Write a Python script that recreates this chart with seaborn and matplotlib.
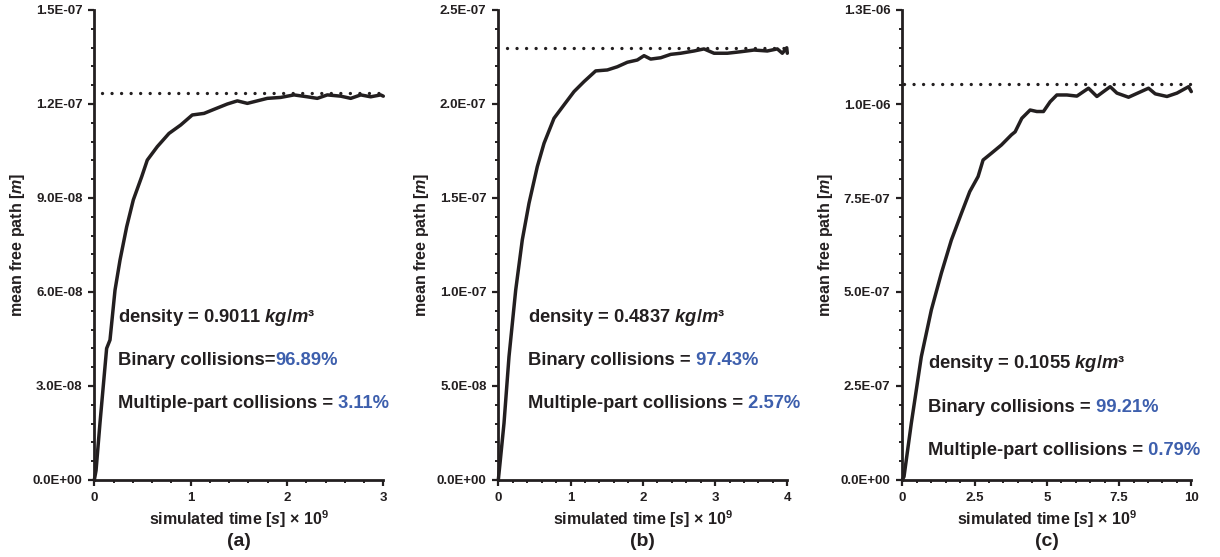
import numpy as np
import pandas as pd
import matplotlib
matplotlib.use("Agg")
import matplotlib.pyplot as plt
import seaborn as sns
from matplotlib.ticker import MultipleLocator, FixedLocator, FixedFormatter

# ---------------- data ----------------
time_a = [0, 0.018, 0.059, 0.128, 0.163, 0.215, 0.267, 0.336, 0.405, 0.492, 0.55, 0.654,
          0.775, 0.897, 1.017, 1.139, 1.243, 1.381, 1.485, 1.589, 1.692, 1.796, 1.935,
          2.073, 2.211, 2.315, 2.419, 2.558, 2.662, 2.766, 2.869, 2.973, 3.0]
mfp_a = [0, 0.3, 1.82, 4.20, 4.47, 6.06, 7.02, 8.08, 8.94, 9.68, 10.21, 10.64, 11.06,
         11.33, 11.65, 11.70, 11.83, 12.00, 12.10, 12.02, 12.10, 12.18, 12.21, 12.29,
         12.23, 12.18, 12.29, 12.25, 12.18, 12.29, 12.23, 12.29, 12.25]  # x 1e-8 m

time_b = [0, 0.024, 0.079, 0.148, 0.241, 0.332, 0.425, 0.54, 0.633, 0.771, 0.909, 1.048,
          1.186, 1.348, 1.509, 1.647, 1.786, 1.924, 2.017, 2.109, 2.248, 2.386, 2.525,
          2.709, 2.847, 2.986, 3.170, 3.355, 3.539, 3.723, 3.862, 3.931, 3.992, 4.0]
mfp_b = [0, 0.9, 3.02, 6.56, 10.11, 12.77, 14.72, 16.67, 17.91, 19.24, 19.95, 20.66,
         21.19, 21.76, 21.81, 21.98, 22.22, 22.34, 22.57, 22.39, 22.46, 22.64, 22.70,
         22.82, 22.93, 22.70, 22.70, 22.78, 22.87, 22.82, 22.93, 22.70, 22.99, 22.70]  # x 1e-8 m

time_c = [0, 0.059, 0.312, 0.658, 1.004, 1.351, 1.697, 2.044, 2.334, 2.622, 2.795, 3.083,
          3.429, 3.776, 3.904, 4.136, 4.423, 4.655, 4.884, 5.116, 5.348, 5.695, 6.041,
          6.27, 6.443, 6.733, 6.962, 7.194, 7.426, 7.828, 8.174, 8.52, 8.753, 9.158,
          9.504, 9.906, 10.0]
mfp_c = [0, 0.09, 1.51, 3.28, 4.52, 5.50, 6.38, 7.09, 7.67, 8.07, 8.51, 8.69, 8.91, 9.18,
         9.26, 9.62, 9.84, 9.80, 9.80, 10.06, 10.24, 10.24, 10.21, 10.33, 10.42, 10.20,
         10.33, 10.46, 10.29, 10.18, 10.30, 10.42, 10.27, 10.20, 10.29, 10.46, 10.33]  # x 1e-7 m

scales = [1e-8, 1e-8, 1e-7]
theory_level = [1.234e-7, 2.30e-7, 1.053e-6]
theory_start = [0.08, 0.12, 0.06]

densities = ["0.9011", "0.4837", "0.1055"]
binary_prefix = ["Binary collisions=", "Binary collisions =", "Binary collisions ="]
binary_pct = ["96.89%", " 97.43%", " 99.21%"]
multi_pct = [" 3.11%", " 2.57%", " 0.79%"]
panel_labels = ["(a)", "(b)", "(c)"]

x_max = [3, 4, 10]
x_major = [[0, 1, 2, 3], [0, 1, 2, 3, 4], [0, 2.5, 5, 7.5, 10]]
x_ticklabels = [["0", "1", "2", "3"], ["0", "1", "2", "3", "4"],
                ["0", "2.5", "5", "7.5", "10"]]
x_minor = [0.2, 0.2, 0.5]
y_max = [1.5e-7, 2.5e-7, 1.25e-6]
y_major = [[0, 3e-8, 6e-8, 9e-8, 1.2e-7, 1.5e-7],
           [0, 5e-8, 1e-7, 1.5e-7, 2e-7, 2.5e-7],
           [0, 2.5e-7, 5e-7, 7.5e-7, 1e-6, 1.25e-6]]
y_ticklabels = [["0.0E+00", "3.0E-08", "6.0E-08", "9.0E-08", "1.2E-07", "1.5E-07"],
                ["0.0E+00", "5.0E-08", "1.0E-07", "1.5E-07", "2.0E-07", "2.5E-07"],
                ["0.0E+00", "2.5E-07", "5.0E-07", "7.5E-07", "1.0E-06", "1.3E-06"]]
y_minor = [6e-9, 1e-8, 5e-8]

times = [time_a, time_b, time_c]
mfps = [mfp_a, mfp_b, mfp_c]

# ---------------- style ----------------
sns.set_style("ticks")
plt.rcParams['font.family'] = ['Liberation Sans', 'DejaVu Sans']
plt.rcParams['font.weight'] = 'bold'
plt.rcParams['mathtext.fontset'] = 'custom'
plt.rcParams['mathtext.rm'] = 'Liberation Sans:bold'
plt.rcParams['mathtext.bf'] = 'Liberation Sans:bold'
plt.rcParams['mathtext.it'] = 'Liberation Sans:italic:bold'

INK = '#231f20'
BLUE = '#3d5fad'

fig = plt.figure(figsize=(12.2, 5.57), dpi=100)
fig.patch.set_facecolor('white')

W, H = 1220, 557
left_px = [94.3, 498.3, 902.3]
ax_w_px = 289
ax_top_px, ax_bot_px = 10, 480

text_x = [0.082, 0.103, 0.090]
text_y = [[0.3368, 0.2447, 0.1526], [0.3368, 0.2447, 0.1526], [0.2377, 0.1453, 0.0532]]

for i in range(3):
    ax = fig.add_axes([left_px[i] / W, (H - ax_bot_px) / H, ax_w_px / W,
                       (ax_bot_px - ax_top_px) / H])
    ax.set_facecolor('white')
    df = pd.DataFrame({"t": times[i], "mfp": np.array(mfps[i]) * scales[i]})
    sns.lineplot(data=df, x="t", y="mfp", ax=ax, color=INK, lw=2.5,
                 sort=False, estimator=None, clip_on=False, zorder=3)
    dots = pd.DataFrame({"t": [theory_start[i], x_max[i]],
                         "mfp": [theory_level[i], theory_level[i]]})
    sns.lineplot(data=dots, x="t", y="mfp", ax=ax, color=INK, lw=2.4,
                 linestyle=(0, (0.01, 2.85)), dash_capstyle='round',
                 estimator=None, clip_on=False, zorder=2)

    ax.set_xlim(0, x_max[i])
    ax.set_ylim(0, y_max[i])
    sns.despine(ax=ax)
    for s in ['left', 'bottom']:
        ax.spines[s].set_linewidth(2.0)
        ax.spines[s].set_color(INK)

    ax.xaxis.set_major_locator(FixedLocator(x_major[i]))
    ax.xaxis.set_major_formatter(FixedFormatter(x_ticklabels[i]))
    ax.xaxis.set_minor_locator(MultipleLocator(x_minor[i]))
    ax.yaxis.set_major_locator(FixedLocator(y_major[i]))
    ax.yaxis.set_major_formatter(FixedFormatter(y_ticklabels[i]))
    ax.yaxis.set_minor_locator(MultipleLocator(y_minor[i]))
    ax.tick_params(which='major', direction='out', length=4.5, width=1.6,
                   color=INK, labelsize=9.5, labelcolor=INK, pad=4)
    ax.tick_params(which='minor', direction='out', length=2.5, width=1.4, color=INK)
    for lab in ax.get_xticklabels() + ax.get_yticklabels():
        lab.set_fontweight('bold')

    ax.set_xlabel(r"simulated time [$\mathit{s}$] × 10$^{9}$", fontsize=11.5,
                  fontweight='bold', color=INK)
    ax.xaxis.set_label_coords(0.5, -0.060)
    ax.set_ylabel(r"mean free path [$\mathit{m}$]", fontsize=11.5,
                  fontweight='bold', color=INK)
    ax.yaxis.set_label_coords(-0.233, 0.5)

    ax.text(0.5, -0.131, panel_labels[i], transform=ax.transAxes, ha='center',
            va='center', fontsize=14, fontweight='bold', color=INK)

    fs = 13.2
    ax.text(text_x[i], text_y[i][0], r"density = %s $\mathit{kg/m}$³" % densities[i],
            transform=ax.transAxes, fontsize=fs, fontweight='bold', color=INK,
            va='baseline', ha='left')
    t1 = ax.text(text_x[i], text_y[i][1], binary_prefix[i], transform=ax.transAxes,
                 fontsize=fs, fontweight='bold', color=INK, va='baseline', ha='left')
    ax.annotate(binary_pct[i], xycoords=t1, xy=(1, 0), va='bottom', ha='left',
                fontsize=fs, fontweight='bold', color=BLUE)
    t2 = ax.text(text_x[i], text_y[i][2], "Multiple-part collisions =",
                 transform=ax.transAxes, fontsize=fs, fontweight='bold', color=INK,
                 va='baseline', ha='left')
    ax.annotate(multi_pct[i], xycoords=t2, xy=(1, 0), va='bottom', ha='left',
                fontsize=fs, fontweight='bold', color=BLUE)

fig.savefig("out.png", dpi=100, facecolor='white')
